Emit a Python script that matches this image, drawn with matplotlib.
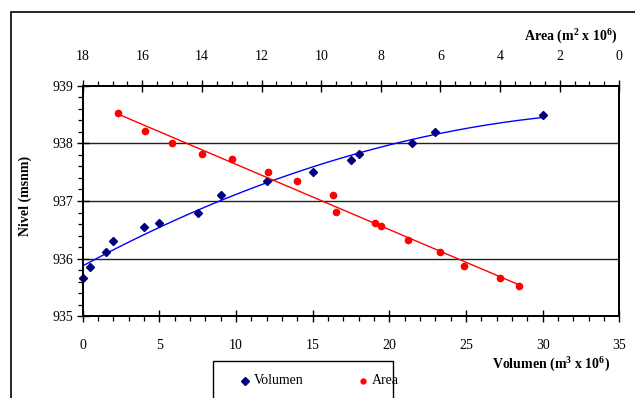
import numpy as np
import matplotlib
matplotlib.use("Agg")
import matplotlib.pyplot as plt
from matplotlib.ticker import MultipleLocator
from matplotlib.lines import Line2D
from matplotlib.patches import Rectangle

plt.rcParams['font.family'] = ['Liberation Serif', 'DejaVu Serif']
plt.rcParams['mathtext.fontset'] = 'custom'
plt.rcParams['mathtext.rm'] = 'Liberation Serif:bold'
plt.rcParams['mathtext.it'] = 'Liberation Serif:bold'
plt.rcParams['mathtext.bf'] = 'Liberation Serif:bold'

# Data
vol_x = [0, 0.5, 1.5, 2, 4, 5, 7.5, 9, 12, 15, 17.5, 18, 21.5, 23, 30]
vol_y = [935.66, 935.86, 936.11, 936.31, 936.55, 936.61, 936.80, 937.10,
         937.35, 937.50, 937.71, 937.81, 938.00, 938.20, 938.50]
area_x = [16.8, 15.9, 15.0, 14.0, 13.0, 11.8, 10.8, 9.6, 9.5, 8.2, 8.0,
          7.1, 6.0, 5.2, 4.0, 3.35]
area_y = [938.52, 938.22, 938.01, 937.81, 937.72, 937.50, 937.35, 937.11,
          936.81, 936.61, 936.56, 936.32, 936.12, 935.88, 935.67, 935.52]
legend_labels = ['Volumen', 'Area']

W, H = 635, 398
fig = plt.figure(figsize=(W / 100, H / 100), dpi=100)
fig.patch.set_facecolor('white')

# outer frame (only top/left visible in the crop)
fig.add_artist(Rectangle((10.7 / W, -0.1), 1.2, 1 - 12 / H + 0.1,
                         transform=fig.transFigure, fill=False,
                         edgecolor='black', lw=1.2))

L, R, T, B = 82.7, 619.3, 85.7, 316.3
ax = fig.add_axes([L / W, 1 - B / H, (R - L) / W, (B - T) / H])
ax.set_xlim(0, 35)
ax.set_ylim(935, 939)

for yv in [936, 937, 938]:
    ax.axhline(yv, color='#222222', lw=1.0, zorder=1)

# Volume points + polynomial trend
ax.plot(vol_x, vol_y, 'D', color='#000080', ms=4.5, zorder=4, clip_on=False)
pv = np.polyfit(vol_x, vol_y, 2)
xv = np.linspace(min(vol_x), max(vol_x), 200)
ax.plot(xv, np.polyval(pv, xv), color='#0000ff', lw=1.0, zorder=3)

ax.xaxis.set_major_locator(MultipleLocator(5))
ax.xaxis.set_minor_locator(MultipleLocator(1))
ax.yaxis.set_major_locator(MultipleLocator(1))
ax.yaxis.set_minor_locator(MultipleLocator(0.2))
ax.tick_params(which='major', direction='inout', length=8, width=1.0,
               labelsize=10, colors='black')
ax.tick_params(which='minor', direction='out', length=3.5, width=0.9)
ax.tick_params(axis='x', which='major', pad=12)
ax.tick_params(axis='y', which='major', pad=3)
for s in ax.spines.values():
    s.set_linewidth(1.3)

# Area axis (top)
ax2 = ax.twiny()
ax2.set_xlim(18, 0)
ax2.plot(area_x, area_y, 'o', color='#ff0000', ms=4.5, zorder=4)
pa = np.polyfit(area_x, area_y, 1)
xa = np.linspace(min(area_x), max(area_x), 50)
ax2.plot(xa, np.polyval(pa, xa), color='#ff0000', lw=1.0, zorder=3)
ax2.xaxis.set_major_locator(MultipleLocator(2))
ax2.xaxis.set_minor_locator(MultipleLocator(0.5))
ax2.tick_params(which='major', direction='inout', length=8, width=1.0,
                labelsize=10, pad=12)
ax2.tick_params(which='minor', direction='out', length=3.5, width=0.9)
for s in ax2.spines.values():
    s.set_linewidth(1.3)

# Axis labels
fig.text(610 / W, 1 - 365 / H, r'Volumen (m$^3$ x 10$^6$)', ha='right',
         va='center', fontsize=10, fontweight='bold')
fig.text(617 / W, 1 - 37 / H, r'Area (m$^2$ x 10$^6$)', ha='right',
         va='center', fontsize=10, fontweight='bold')
fig.text(25 / W, 1 - 196 / H, 'Nivel (msnm)', rotation=90, ha='center',
         va='center', fontsize=10, fontweight='bold')

# Legend box
fig.add_artist(Rectangle((212.7 / W, -0.05), (393 - 212.7) / W,
                         (398 - 360.7) / H + 0.05, transform=fig.transFigure,
                         fill=False, edgecolor='black', lw=1.0))
fig.add_artist(Line2D([245 / W], [1 - 381 / H], marker='D', color='#000080',
                      ms=4, transform=fig.transFigure))
fig.text(254 / W, 1 - 381 / H, legend_labels[0], ha='left', va='center',
         fontsize=10)
fig.add_artist(Line2D([363 / W], [1 - 381 / H], marker='o', color='#ff0000',
                      ms=3.5, transform=fig.transFigure))
fig.text(372 / W, 1 - 381 / H, legend_labels[1], ha='left', va='center',
         fontsize=10)

fig.savefig('out.png', dpi=100, facecolor='white')
